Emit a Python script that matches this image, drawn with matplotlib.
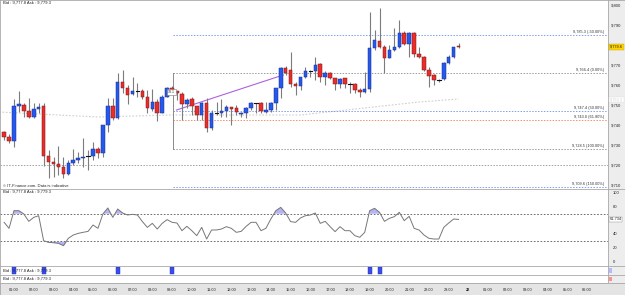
import matplotlib
matplotlib.use("Agg")
import matplotlib.pyplot as plt
from matplotlib.patches import Rectangle

plt.rcParams['font.family'] = ['Liberation Sans', 'DejaVu Sans']

# ---------------- data ----------------
opens = [9736.8, 9734.3, 9732.7, 9750.0, 9750.5, 9747.7, 9744.7, 9748.3, 9750.0, 9725.0,
         9721.8, 9721.2, 9719.3, 9716.0, 9721.3, 9723.0, 9723.8, 9725.0, 9725.0, 9728.3,
         9726.7, 9740.5, 9750.0, 9743.8, 9762.2, 9758.8, 9756.0, 9757.7, 9757.7, 9754.3,
         9748.3, 9752.2, 9746.7, 9754.7, 9758.8, 9757.5, 9756.0, 9751.0, 9753.3, 9750.0,
         9745.5, 9751.7, 9738.8, 9746.7, 9746.7, 9747.5, 9749.3, 9748.8, 9746.0, 9746.7,
         9749.0, 9751.7, 9751.7, 9747.2, 9748.0, 9751.4, 9758.8, 9769.2, 9768.0, 9760.8,
         9760.2, 9764.7, 9767.5, 9767.5, 9770.8, 9764.7, 9766.7, 9763.8, 9760.8, 9763.8,
         9761.0, 9760.8, 9758.0, 9756.8, 9758.3, 9779.2, 9782.5, 9779.7, 9774.2, 9778.0,
         9779.7, 9786.3, 9780.8, 9786.3, 9775.8, 9774.7, 9768.0, 9765.5, 9763.0, 9763.5,
         9771.3, 9774.7, 9780.2]
highs = [9737.5, 9736.0, 9753.3, 9757.5, 9751.7, 9753.8, 9751.3, 9751.3, 9751.7, 9728.0,
         9724.7, 9730.0, 9724.7, 9723.0, 9728.3, 9727.0, 9733.8, 9728.0, 9732.2, 9729.5,
         9740.5, 9753.8, 9753.8, 9766.7, 9768.0, 9760.5, 9764.7, 9761.3, 9758.3, 9758.0,
         9758.3, 9753.3, 9755.5, 9759.3, 9760.0, 9757.5, 9757.2, 9753.8, 9754.3, 9750.0,
         9752.2, 9753.8, 9748.0, 9752.2, 9753.3, 9750.5, 9749.7, 9750.5, 9747.2, 9749.7,
         9752.2, 9751.7, 9752.2, 9752.2, 9752.2, 9758.8, 9769.7, 9770.0, 9777.2, 9762.2,
         9764.7, 9769.7, 9768.0, 9774.7, 9771.3, 9767.5, 9767.2, 9764.2, 9764.0, 9764.2,
         9762.2, 9761.3, 9758.8, 9767.2, 9797.2, 9788.0, 9798.8, 9780.5, 9780.5, 9788.8,
         9793.0, 9787.5, 9786.8, 9786.8, 9779.7, 9775.0, 9769.7, 9766.0, 9763.5, 9771.8,
         9775.5, 9779.7, 9781.3]
lows = [9733.0, 9731.3, 9729.7, 9747.2, 9744.3, 9744.0, 9743.8, 9746.5, 9720.0, 9713.8,
        9714.7, 9715.5, 9713.8, 9715.5, 9720.5, 9721.3, 9719.7, 9718.0, 9723.0, 9724.0,
        9724.7, 9737.2, 9743.0, 9743.3, 9756.3, 9751.0, 9755.5, 9754.7, 9753.3, 9746.3,
        9747.7, 9742.7, 9746.3, 9754.3, 9756.0, 9753.0, 9743.0, 9749.0, 9745.5, 9743.0,
        9743.0, 9737.2, 9738.0, 9745.5, 9744.7, 9744.7, 9740.5, 9745.5, 9744.7, 9743.8,
        9748.0, 9746.3, 9746.3, 9746.3, 9747.2, 9748.0, 9753.8, 9765.5, 9759.7, 9755.5,
        9758.0, 9764.2, 9764.7, 9763.0, 9762.2, 9760.5, 9763.5, 9758.0, 9758.8, 9758.8,
        9756.3, 9756.3, 9754.7, 9756.3, 9756.8, 9778.0, 9778.8, 9766.3, 9773.8, 9777.5,
        9778.8, 9780.5, 9774.7, 9774.7, 9774.2, 9767.5, 9759.7, 9760.5, 9761.8, 9763.0,
        9770.8, 9774.2, 9778.8]
closes = [9734.3, 9732.7, 9750.0, 9750.8, 9747.7, 9744.7, 9748.3, 9749.7, 9725.0, 9721.8,
          9721.2, 9719.3, 9716.0, 9721.3, 9723.0, 9723.8, 9724.7, 9725.0, 9728.3, 9726.7,
          9740.5, 9750.0, 9743.8, 9762.2, 9758.8, 9755.5, 9757.7, 9757.7, 9754.3, 9748.8,
          9752.2, 9746.7, 9754.3, 9758.8, 9757.8, 9756.3, 9751.0, 9753.0, 9750.0, 9745.5,
          9751.7, 9738.8, 9746.3, 9746.7, 9747.5, 9749.7, 9748.3, 9747.2, 9746.7, 9749.0,
          9751.7, 9751.7, 9747.7, 9748.0, 9751.7, 9758.8, 9769.2, 9766.3, 9760.8, 9760.2,
          9764.7, 9767.5, 9767.5, 9770.5, 9764.7, 9766.7, 9763.8, 9760.8, 9763.5, 9760.8,
          9761.0, 9758.0, 9756.8, 9758.3, 9779.2, 9783.0, 9779.7, 9774.2, 9778.0, 9779.7,
          9786.3, 9780.8, 9786.3, 9775.8, 9774.7, 9768.0, 9765.2, 9763.0, 9763.0, 9771.3,
          9774.7, 9779.3, 9779.6]

rsi = [57.5, 48.8, 74.4, 74.4, 69.6, 58.9, 64.7, 67.1, 30.9, 28.5,
       28.0, 27.1, 23.7, 34.3, 39.1, 41.5, 43.0, 44.4, 53.6, 48.8,
       69.6, 78.3, 64.7, 76.8, 71.0, 68.1, 69.1, 68.1, 58.5, 50.2,
       56.0, 47.8, 56.0, 61.4, 57.5, 56.5, 45.4, 51.7, 45.4, 38.2,
       50.2, 33.3, 46.4, 46.4, 47.8, 51.2, 48.8, 43.0, 44.4, 51.7,
       57.5, 57.5, 45.4, 48.8, 62.3, 74.4, 79.2, 71.0, 58.5, 57.5,
       63.8, 67.1, 68.1, 71.0, 56.0, 58.9, 51.2, 44.0, 51.2, 45.4,
       45.4, 38.2, 35.8, 43.0, 74.4, 77.8, 72.0, 58.9, 63.3, 65.7,
       72.0, 59.9, 66.2, 48.8, 46.4, 39.1, 34.3, 33.3, 33.3, 50.2,
       56.5, 62.3, 61.7]

ma_idx = [-1, 19, 34, 60, 84, 92]
ma_val = [9747.0, 9744.5, 9745.5, 9745.5, 9752.0, 9753.5]

fib_levels = [9785.3, 9766.4, 9747.4, 9743.0, 9728.5, 9709.6]
fib_pcts = [-50.0, 0.0, 50.0, 61.8, 100.0, 150.0]
fib_colors = ['#7f9fef', '#9a9a9a', '#7f9fef', '#f0906a', '#9a9a9a', '#7f9fef']
fib_anchor = 34.1

trend_idx = [34.9, 56.5]
trend_val = [9748.0, 9765.5]

hline_level = 9720.3

signal_idx = [2, 8, 23, 34, 74, 76]

price_ticks = [9800, 9790, 9770, 9760, 9750, 9740, 9730, 9720, 9710]
rsi_ticks = [100, 80, 40, 20, 0]
rsi_levels = [70, 30]
last_price = 9779.6
ma_last = 9753.3
rsi_last = '61.734'

time_labels = ['01:00', '02:00', '03:00', '04:00', '05:00', '06:00', '07:00', '08:00',
               '09:00', '10:00', '11:00', '12:00', '13:00', '14:00', '15:00', '16:00',
               '17:00', '18:00', '19:00', '20:00', '21:00', '22:00', '23:00', '22',
               '01:00', '02:00', '03:00', '04:00', '05:00', '06:00']
info_text = 'Bid : 9,777.8 Ask : 9,779.3'
copyright_text = '\u00a9 IT-Finance.com. Data is indicative'

# ---------------- layout ----------------
W, H = 625, 295
fig = plt.figure(figsize=(W / 100, H / 100), dpi=100)
fig.patch.set_facecolor('white')

def rect(x0, y0, x1, y1):
    return [x0 / W, 1 - y1 / H, (x1 - x0) / W, (y1 - y0) / H]

PX0, PXK = 4.1, 4.94
def kpx(px):
    return (px - PX0) / PXK

XMIN, XMAX = kpx(0), kpx(608)
GRID = '#a8a8a8'
FS = 3.0

def clean(a, face='white'):
    a.set_xticks([]); a.set_yticks([])
    a.set_facecolor(face)
    for s in a.spines.values():
        s.set_color(GRID); s.set_linewidth(0.6)

# main pane
ax = fig.add_axes(rect(0, 0, 608, 189))
clean(ax)
ax.set_xlim(XMIN, XMAX)
ax.set_ylim(9708.5, 9803)

ax.axhline(hline_level, color='#a0a0a0', lw=0.7, ls=(0, (1.5, 1.5)))
ax.plot(ma_idx, ma_val, color='#cfcfcf', lw=0.8, ls=(0, (1.5, 1.5)))

for lv, pc, col in zip(fib_levels, fib_pcts, fib_colors):
    ax.plot([fib_anchor, XMAX], [lv, lv], color=col, lw=0.7, ls=(0, (1.5, 1.5)))
    ax.text(kpx(604), lv + 0.6, f"{lv:,.1f} ({pc:.2f}%)", ha='right', va='bottom',
            fontsize=2.8, color='#333333')
ax.plot([fib_anchor, fib_anchor], [fib_levels[1], fib_levels[4]], color='#8a8a8a', lw=0.7)

ax.plot(trend_idx, trend_val, color='#b060e0', lw=0.8)

for k, (o, h, l, c) in enumerate(zip(opens, highs, lows, closes)):
    ax.plot([k, k], [l, h], color='#7c7c7c', lw=0.8, solid_capstyle='butt', zorder=3)
    if abs(c - o) < 0.05:
        ax.plot([k - 0.38, k + 0.38], [o, o], color='#111111', lw=0.8, zorder=4)
        continue
    up = c > o
    face = '#2458ee' if up else '#ea2d2a'
    edge = '#1a2f8a' if up else '#7a1a1a'
    ax.add_patch(Rectangle((k - 0.36, min(o, c)), 0.72, abs(c - o), facecolor=face,
                           edgecolor=edge, lw=0.35, zorder=4))

ax.text(kpx(168), 9757.0, '18.1', fontsize=2.6, color='#333', ha='left', va='center',
        bbox=dict(boxstyle='square,pad=0.25', fc='white', ec='#777', lw=0.4), zorder=6)
ax.text(kpx(3), 9801.5, info_text, fontsize=FS, ha='left', va='center', color='#222')
ax.text(kpx(3), 9710.0, copyright_text, fontsize=FS, ha='left', va='center', color='#222')

# main right scale
axr = fig.add_axes(rect(608, 0, 625, 189))
clean(axr, '#ededed')
axr.set_xlim(0, 1); axr.set_ylim(ax.get_ylim())
for p in price_ticks:
    axr.text(0.18, p, f"{p:,}", fontsize=FS, va='center', ha='left', color='#222')
axr.text(0.12, last_price, f"{last_price:,.1f}", fontsize=2.8, va='center', ha='left',
         color='#111', bbox=dict(boxstyle='square,pad=0.2', fc='#ffd400', ec='#c8a000', lw=0.3))
axr.text(0.12, ma_last, f"{ma_last:,.1f}", fontsize=2.8, va='center', ha='left',
         color='#cccccc', bbox=dict(boxstyle='square,pad=0.2', fc='white', ec='#dddddd', lw=0.3))

# RSI pane
ax2 = fig.add_axes(rect(0, 189, 608, 266))
clean(ax2)
ax2.set_xlim(XMIN, XMAX)
ax2.set_ylim(-5.8, 105.8)
kk = list(range(len(rsi)))
ax2.fill_between(kk, rsi, 70, where=[v > 70 for v in rsi], interpolate=True,
                 color='#b4b4f2', lw=0)
ax2.fill_between(kk, rsi, 30, where=[v < 30 for v in rsi], interpolate=True,
                 color='#b4b4f2', lw=0)
for lv in rsi_levels:
    ax2.axhline(lv, color='#555555', lw=0.6, ls=(0, (2, 2)))
ax2.plot(kk, rsi, color='#777777', lw=0.7)
ax2.text(kpx(3), 101.5, info_text, fontsize=FS, ha='left', va='center', color='#222')

ax2r = fig.add_axes(rect(608, 189, 625, 266))
clean(ax2r, '#ededed')
ax2r.set_xlim(0, 1); ax2r.set_ylim(ax2.get_ylim())
for t in rsi_ticks:
    ax2r.text(0.3, t, str(t), fontsize=FS, va='center', ha='left', color='#222')
ax2r.text(0.08, rsi[-1], rsi_last, fontsize=2.8, va='center', ha='left', color='#222',
          bbox=dict(boxstyle='square,pad=0.2', fc='white', ec='#888', lw=0.3))

# signal pane
ax3 = fig.add_axes(rect(0, 266, 608, 275))
clean(ax3)
ax3.set_xlim(XMIN, XMAX); ax3.set_ylim(0, 1)
ax3.bar(signal_idx, [0.85] * len(signal_idx), width=0.8, bottom=0.08,
        color='#3a4cf0', edgecolor='#2030a0', lw=0.3)
ax3.text(kpx(3), 0.5, info_text, fontsize=FS, ha='left', va='center', color='#222')
ax3r = fig.add_axes(rect(608, 266, 625, 275))
clean(ax3r, '#ededed')
ax3r.add_patch(Rectangle((0.08, 0.2), 0.15, 0.6, fc='#b8b8ff', ec='none'))

ax4 = fig.add_axes(rect(0, 275, 608, 283))
clean(ax4)
ax4.set_xlim(XMIN, XMAX); ax4.set_ylim(0, 1)
ax4.text(kpx(3), 0.5, info_text, fontsize=FS, ha='left', va='center', color='#222')
ax4r = fig.add_axes(rect(608, 275, 625, 283))
clean(ax4r, '#ededed')
ax4r.add_patch(Rectangle((0.08, 0.2), 0.15, 0.6, fc='#ff9090', ec='none'))

# time axis
axt = fig.add_axes(rect(0, 283, 625, 295))
clean(axt, '#e4e4e4')
axt.set_xlim(XMIN, kpx(625)); axt.set_ylim(0, 1)
for i, lab in enumerate(time_labels):
    k = 2 + 4 * i
    axt.text(k, 0.45, lab, fontsize=2.8, ha='center', va='center', color='#222',
             fontweight='bold' if lab == '22' else 'normal')

fig.savefig('out.png', dpi=100, facecolor='white')
